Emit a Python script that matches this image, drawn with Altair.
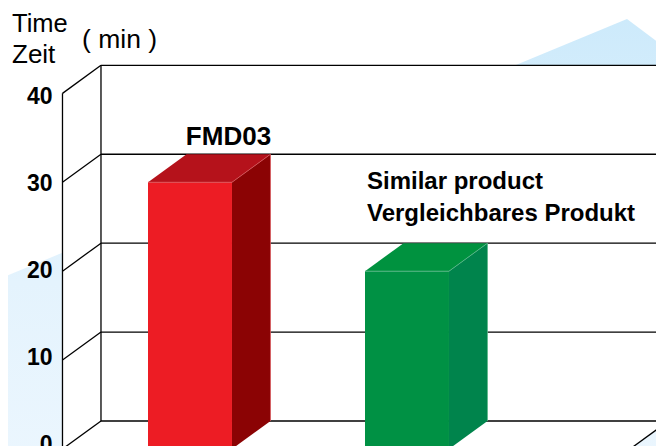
import altair as alt
import pandas as pd

# values
categories = ["FMD03", "Similar product"]
bar_slots = [0.0, 1.0]
bar_minutes = [30.0, 20.0]
front_colors = ["#ed1c24", "#009144"]
side_colors = ["#8b0304", "#00844c"]
top_colors = ["#b5121b", "#00923f"]
edge_colors = ["#d8585c", "#5cb98a"]
ticks = [0, 10, 20, 30, 40]

BAR_W = 0.387
DEPTH_X = 0.1774
DEPTH_Y = 3.15
FLOOR_L = -0.5876
FLOOR_R = 2.028

X_DOM = [-0.8387, 2.1475]
Y_DOM = [0.337, 49.6]
LABEL_DOM = [-0.23, 50.25]

ridge_x = [-0.8387, 2.0138, 2.1475]
ridge_top = [19.54, 48.37, 45.93]
ridge_bottom = [-1.0, -1.0, -1.0]

font = "Liberation Sans"
xs = alt.Scale(domain=X_DOM, nice=False, zero=False)
ys = alt.Scale(domain=Y_DOM, nice=False, zero=False)
X = lambda f="x": alt.X(f"{f}:Q", scale=xs, axis=None)
Y = lambda f="y": alt.Y(f"{f}:Q", scale=ys, axis=None)
Y2 = alt.Y2("y2:Q")


def area(points, fill, order=True):
    df = pd.DataFrame(points, columns=["x", "y", "y2"])
    return alt.Chart(df).mark_area(color=fill, interpolate="linear", opacity=1, clip=False).encode(
        x=X(), y=Y(), y2=Y2
    )


gradient = alt.Gradient(
    gradient="linear", x1=0, y1=0, x2=0, y2=1,
    stops=[alt.GradientStop(color="#cdeafb", offset=0),
           alt.GradientStop(color="#e4f3fd", offset=0.6),
           alt.GradientStop(color="#ebf6fe", offset=1)],
)
backdrop = area(list(zip(ridge_x, ridge_top, ridge_bottom)), gradient)

box = area(
    [(FLOOR_L, 40, 0), (FLOOR_L + DEPTH_X, 40 + DEPTH_Y, 0),
     (FLOOR_R, 40 + DEPTH_Y, 0), (FLOOR_R + DEPTH_X, 40 + DEPTH_Y, DEPTH_Y)],
    "#ffffff",
)

# gridlines on back wall, left wall diagonals, and frame
h_df = pd.DataFrame({"x": FLOOR_L + DEPTH_X, "x2": FLOOR_R + DEPTH_X,
                     "y": [t + DEPTH_Y for t in ticks]})
h_lines = alt.Chart(h_df).mark_rule(color="#000000", strokeWidth=1.3).encode(
    x=X(), x2="x2:Q", y=Y())

seg = []
for t in ticks:
    seg += [{"g": f"d{t}", "x": FLOOR_L, "y": t}, {"g": f"d{t}", "x": FLOOR_L + DEPTH_X, "y": t + DEPTH_Y}]
seg += [{"g": "front", "x": FLOOR_L, "y": 0}, {"g": "front", "x": FLOOR_L, "y": 40}]
seg += [{"g": "back", "x": FLOOR_L + DEPTH_X, "y": DEPTH_Y}, {"g": "back", "x": FLOOR_L + DEPTH_X, "y": 40 + DEPTH_Y}]
seg += [{"g": "floor", "x": FLOOR_R, "y": 0}, {"g": "floor", "x": FLOOR_R + DEPTH_X, "y": DEPTH_Y}]
lines = alt.Chart(pd.DataFrame(seg)).mark_line(color="#000000", strokeWidth=1.3, clip=False).encode(
    x=X(), y=Y(), detail="g:N", order="y:Q")

layers = [backdrop, box, h_lines, lines]

for slot, v, fc, sc, tc, ec in zip(bar_slots, bar_minutes, front_colors, side_colors, top_colors, edge_colors):
    a, b = slot - BAR_W / 2, slot + BAR_W / 2
    layers.append(area([(a, v, v), (a + DEPTH_X, v + DEPTH_Y, v), (b, v + DEPTH_Y, v),
                        (b + DEPTH_X, v + DEPTH_Y, v + DEPTH_Y)], tc))
    layers.append(area([(b, v, 0), (b + DEPTH_X, v + DEPTH_Y, DEPTH_Y)], sc))
    layers.append(area([(a, v, 0), (b, v, 0)], fc))
    edge = pd.DataFrame({"i": [0, 1, 2, 3],
                         "x": [a, b, b + DEPTH_X, b + DEPTH_X],
                         "y": [v, v, v + DEPTH_Y, DEPTH_Y]})
    layers.append(alt.Chart(edge).mark_line(color=ec, strokeWidth=0.8, clip=False).encode(
        x=X(), y=Y(), order="i:Q"))

lab = pd.DataFrame({"x": [bar_slots[0] + DEPTH_X], "y": [bar_minutes[0] + DEPTH_Y], "t": [categories[0]]})
layers.append(alt.Chart(lab).mark_text(font=font, fontSize=26, fontWeight="bold", color="#000", dy=-9,
                                       align="center", baseline="alphabetic").encode(x=X(), y=Y(), text="t:N"))


def note(text, px, py, size, weight="normal"):
    return alt.Chart(pd.DataFrame({"t": [text]})).mark_text(
        font=font, fontSize=size, fontWeight=weight, color="#000", align="left", baseline="alphabetic",
        x=px - 8, y=py - 8).encode(text="t:N")


layers += [
    note("Time", 12, 32, 25.5), note("Zeit", 12, 63, 26), note("( min )", 82, 48, 26.5),
    note("Similar product", 367, 189, 24, "bold"), note("Vergleichbares Produkt", 367, 221, 24, "bold"),
]

axis_layer = alt.Chart(pd.DataFrame({"v": ticks})).mark_point(opacity=0).encode(
    y=alt.Y("v:Q", scale=alt.Scale(domain=LABEL_DOM, nice=False, zero=False),
            axis=alt.Axis(orient="left", values=ticks, title=None, domain=False, ticks=False, grid=False,
                          labelFont=font, labelFontSize=23, labelFontWeight="bold", labelColor="#000",
                          labelPadding=0, tickSize=0, offset=-44, labelFlush=False, labelOverlap=False,
                          zindex=1))
)
layers.append(axis_layer)

chart = alt.layer(*layers).resolve_scale(y="independent").properties(
    width=648, height=438, padding=0, autosize=alt.AutoSizeParams(type="none"), background="#ffffff"
).configure_view(stroke=None)

chart.save("out.html", embed_options={"renderer": "svg", "actions": False})
